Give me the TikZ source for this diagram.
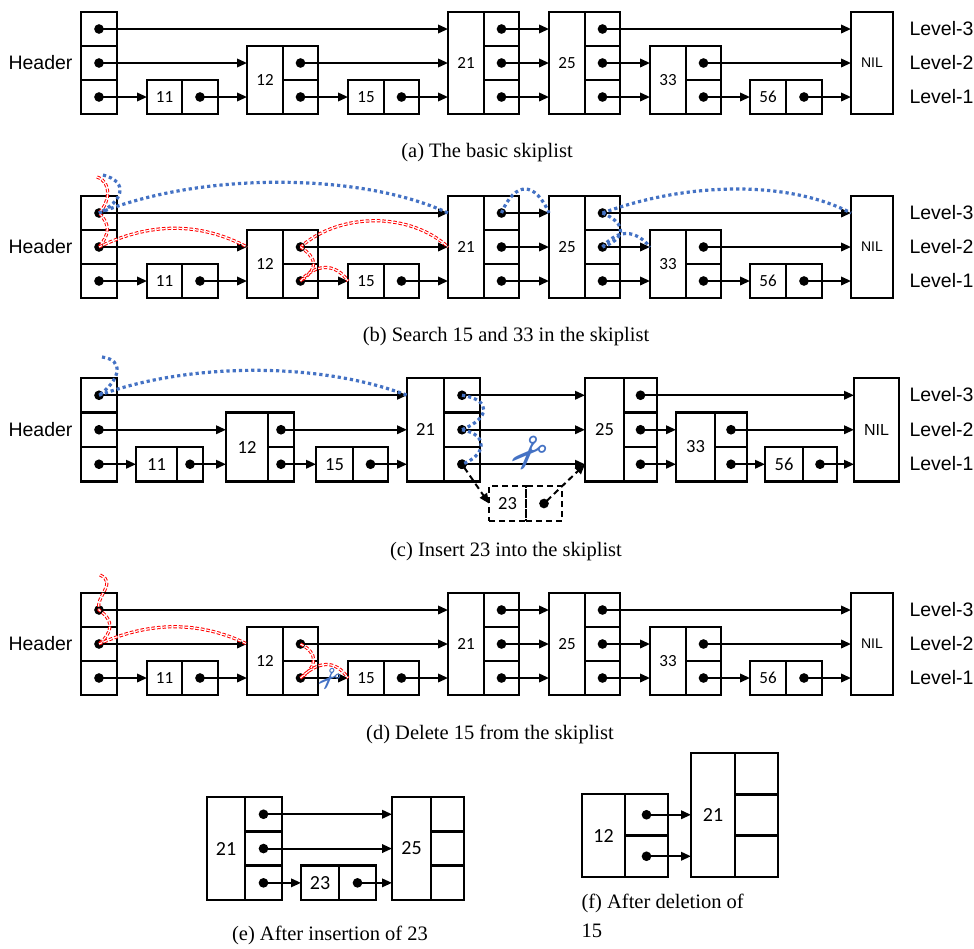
\documentclass[tikz,border=0pt]{standalone}
\usepackage{fontspec}
\setmainfont{Liberation Serif}
\newfontfamily\numfont{Carlito}
\newfontfamily\arialfont{Liberation Sans}
\newfontfamily\symfont{DejaVu Sans}
\usetikzlibrary{arrows.meta}
\usetikzlibrary{calc}
\definecolor{trblue}{HTML}{4472C4}

% skiplist node: name, x, bottom y, label width, cell width, row height, levels, label
\newcommand{\skipnode}[8]{%
	\node[lblbox,minimum width=#4,minimum height=#7*#6] (#1) at (#2,#3) {#8};
	\foreach \lv in {1,...,#7}
		\node[cellbox,minimum width=#5,minimum height=#6] (#1-\lv) at ($(#1.south east)+(0,{-(\lv-1)*#6})$) {};
}
% header column: prefix, bottom y, row height
\newcommand{\hdcol}[3]{%
	\foreach \lv in {1,2,3}
		\node[cellbox,minimum width=36,minimum height=#3] (#1hd-\lv) at (81,{#2-(\lv-1)*#3}) {};
}
\newcommand{\links}[1]{%
	\foreach \src/\dst/\lv in {hd/11/1,hd/12/2,hd/21/3,11/12/1,12/15/1,12/21/2,15/21/1,21/25/1,21/25/2,21/25/3,25/33/1,25/33/2,25/NIL/3,33/56/1,33/NIL/2,56/NIL/1}
		\draw[link] (#1\src-\lv.center) -- (#1\src-\lv -| #1\dst.west);
}
\newcommand{\basiclist}[1]{%
	\hdcol{#1}{114}{34}
	\skipnode{#111}{147}{114}{35}{36}{34}{1}{11}
	\skipnode{#112}{247}{114}{36}{35}{34}{2}{12}
	\skipnode{#115}{348}{114}{36}{35}{34}{1}{15}
	\skipnode{#121}{448}{114}{36}{35}{34}{3}{21}
	\skipnode{#125}{549}{114}{36}{35}{34}{3}{25}
	\skipnode{#133}{650}{114}{36}{35}{34}{2}{33}
	\skipnode{#156}{750}{114}{36}{36}{34}{1}{56}
	\node[lblbox,minimum width=42,minimum height=102,font=\arialfont\fontsize{14}{16}\selectfont] (#1NIL) at (851,114) {NIL};
	\node[txt,anchor=east] (#1hdr) at (76,63) {Header};
	\foreach \lv/\yy in {3/29,2/63,1/97}
		\node[txt,anchor=west] (#1lvl\lv) at (906,\yy) {Level-\lv};
	\links{#1}
}

\begin{document}
\begin{tikzpicture}[x=1pt,y=-1pt,
	lblbox/.style={draw,line width=2.6pt,inner sep=0pt,outer sep=0pt,anchor=south west,font=\numfont\fontsize{17}{18}\selectfont},
	cellbox/.style={draw,line width=2.6pt,inner sep=0pt,outer sep=0pt,anchor=south west},
	link/.style={line width=2pt,arrows={Circle[length=9.5pt]-Triangle[length=10pt,width=8.5pt]},shorten <=-4.75pt},
	txt/.style={font=\arialfont\fontsize{19.5}{22}\selectfont},
	captxt/.style={font=\fontsize{20.5}{29}\selectfont},
	srchB/.style={trblue,line width=3.2pt,dash pattern=on 3.2pt off 3pt},
	srchR/.style={draw=red,double=white,line width=1pt,double distance=1.2pt,dash pattern=on 3.5pt off 2pt},
	boxdash/.style={dash pattern=on 6pt off 4pt},
	scis/.style={trblue,inner sep=0pt}]
	\useasboundingbox (0,0) rectangle (974,948);

	% (a) basic list
	\basiclist{a}
	\node[captxt] (capa) at (487,153) {(a) The basic skiplist};

	% (b) search
	\begin{scope}[shift={(0,184)}]
		\basiclist{b}
		\coordinate (bredin) at (97,-7);
		\coordinate (bbluein) at (103,-9);
		\draw[srchR] (bredin) .. controls (112,-2) and (110,18) .. (bhd-3.center) .. controls (110,40) and (110,50) .. (bhd-2.center);
		\draw[srchR] (bhd-2.center) .. controls (150,38) and (200,38) .. (bhd-2 -| b12.west);
		\draw[srchR] (b12-2.center) .. controls (340,28) and (410,28) .. (b12-2 -| b21.west);
		\draw[srchR] (b12-2.center) .. controls (318,75) and (318,85) .. (b12-1.center);
		\draw[srchR] (b12-1.center) .. controls (315,80) and (335,78) .. (b12-1 -| b15.west);
		\draw[srchB] (bbluein) .. controls (130,-2) and (122,18) .. (bhd-3.center);
		\draw[srchB] (bhd-3.center) .. controls (200,-12) and (360,-12) .. (bhd-3 -| b21.west);
		\draw[srchB] (b21-3.center) .. controls (515,-3) and (535,-3) .. (b21-3 -| b25.west);
		\draw[srchB] (b25-3.center) .. controls (690,-3) and (790,-3) .. (b25-3 -| bNIL.west);
		\draw[srchB] (b25-3.center) .. controls (628,40) and (625,55) .. (b25-2.center);
		\draw[srchB] (b25-2.center) .. controls (618,45) and (635,45) .. (b25-2 -| b33.west);
	\end{scope}
	\node[captxt] (capb) at (506,337) {(b) Search 15 and 33 in the skiplist};

	% (c) insert
	\begin{scope}[lblbox/.append style={font=\numfont\fontsize{18.5}{20}\selectfont}]
		\hdcol{c}{481.5}{34.5}
		\skipnode{c11}{136}{481.5}{41}{26}{34.5}{1}{11}
		\skipnode{c12}{226}{481.5}{42}{26}{34.5}{2}{12}
		\skipnode{c15}{316}{481.5}{37}{35}{34.5}{1}{15}
		\skipnode{c21}{407}{481.5}{37}{36}{34.5}{3}{21}
		\skipnode{c25}{585}{481.5}{39}{33}{34.5}{3}{25}
		\skipnode{c33}{676}{481.5}{39}{32}{34.5}{2}{33}
		\skipnode{c56}{765}{481.5}{38}{34}{34.5}{1}{56}
		\node[lblbox,minimum width=45,minimum height=103.5,font=\arialfont\fontsize{16}{18}\selectfont] (cNIL) at (854,481.5) {NIL};
		\node[txt,anchor=east] (chdr) at (76,429.5) {Header};
		\foreach \lv/\yy in {3/395,2/429.5,1/464}
			\node[txt,anchor=west] (clvl\lv) at (906,\yy) {Level-\lv};
		\links{c}
	\end{scope}
	\begin{scope}[lblbox/.append style={boxdash,font=\numfont\fontsize{18.5}{20}\selectfont},cellbox/.append style={boxdash}]
		\skipnode{c23}{489}{521}{37}{36}{35}{1}{23}
	\end{scope}
	\draw[link,dash pattern=on 6pt off 4pt] (c21-1.center) -- (c23.west);
	\draw[link,dash pattern=on 6pt off 4pt] (c23-1.center) -- (c21-1 -| c25.west);
	\coordinate (cbluein) at (102,357);
	\draw[srchB] (cbluein) .. controls (125,360) and (120,380) .. (chd-3.center);
	\draw[srchB] (chd-3.center) .. controls (190,362) and (320,362) .. (chd-3 -| c21.west);
	\draw[srchB] (c21-3.center) .. controls (492,400) and (490,418) .. (c21-2.center);
	\draw[srchB] (c21-2.center) .. controls (490,435) and (485,456) .. (c21-1.center);
	\node[scis,rotate=225,font=\symfont\fontsize{46}{46}\selectfont] (ccut) at (526,452) {✂};
	\node[captxt] (capc) at (506,552) {(c) Insert 23 into the skiplist};

	% (d) delete
	\begin{scope}[shift={(0,581)}]
		\basiclist{d}
		\coordinate (dredin) at (100,-6);
		\draw[srchR] (dredin) .. controls (118,2) and (95,15) .. (dhd-3.center) .. controls (115,40) and (112,52) .. (dhd-2.center);
		\draw[srchR] (dhd-2.center) .. controls (150,40) and (200,40) .. (dhd-2 -| d12.west);
		\draw[srchR] (d12-2.center) .. controls (318,72) and (318,85) .. (d12-1.center);
		\draw[srchR] (d12-1.center) .. controls (318,80) and (335,78) .. (d12-1 -| d15.west);
		\node[scis,rotate=225,font=\symfont\fontsize{29}{29}\selectfont] (dcut) at (328,97) {✂};
	\end{scope}
	\node[captxt] (capd) at (490,734) {(d) Delete 15 from the skiplist};

	% (e) after insertion
	\begin{scope}[lblbox/.append style={font=\numfont\fontsize{20}{22}\selectfont}]
		\skipnode{e21}{207}{900}{38}{37}{34.3}{3}{21}
		\skipnode{e23}{301}{900}{38}{37}{34.3}{1}{23}
		\skipnode{e25}{392}{900}{39}{33}{34.3}{3}{25}
		\draw[link] (e21-3.center) -- (e21-3 -| e25.west);
		\draw[link] (e21-2.center) -- (e21-2 -| e25.west);
		\draw[link] (e21-1.center) -- (e21-1 -| e23.west);
		\draw[link] (e23-1.center) -- (e23-1 -| e25.west);
	% (f) after deletion
		\skipnode{f12}{582}{877}{43}{43}{41.5}{2}{12}
		\skipnode{f21}{691}{877}{44}{43}{41.3}{3}{21}
		\draw[link] (f12-2.center) -- (f12-2 -| f21.west);
		\draw[link] (f12-1.center) -- (f12-1 -| f21.west);
	\end{scope}
	\node[captxt] (cape) at (330,935) {(e) After insertion of 23};
	\node[captxt,anchor=north west,align=left] (capf) at (578,891) {(f) After deletion of\\15};
\end{tikzpicture}
\end{document}
